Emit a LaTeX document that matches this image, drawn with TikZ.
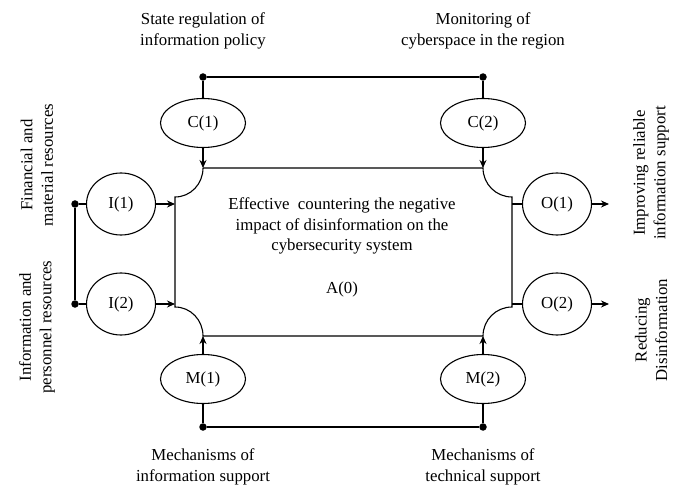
\documentclass[tikz,border=0pt]{standalone}
\usepackage{fontspec}
\setmainfont{Liberation Serif}
\usetikzlibrary{arrows.meta,shapes.geometric}
\begin{document}
\begin{tikzpicture}[x=1pt,y=-1pt,
  every node/.style={font=\fontsize{16.8}{20.5}\selectfont, inner sep=0pt},
  line/.style={line width=1.1pt},
  arr/.style={line width=1.1pt,-{Stealth[length=8pt,width=7pt]}},
  wide/.style={ellipse,draw,line width=1.1pt,minimum width=85pt,minimum height=49pt},
  round/.style={ellipse,draw,line width=1.1pt,minimum width=69pt,minimum height=62pt},
  dot/.style={circle,fill,minimum size=7.5pt},
  lbl/.style={align=center}]
\useasboundingbox (0,0) rectangle (674,486);
% ellipses
\node[wide] (c1) at (203,123) {C(1)};
\node[wide] (c2) at (483,123) {C(2)};
\node[wide] (m1) at (203,379) {M(1)};
\node[wide] (m2) at (483,379) {M(2)};
\node[round] (i1) at (121,204) {I(1)};
\node[round] (i2) at (121,304) {I(2)};
\node[round] (o1) at (557,204) {O(1)};
\node[round] (o2) at (557,304) {O(2)};
% dots
\node[dot] (dc1) at (203,77) {};
\node[dot] (dc2) at (483,77) {};
\node[dot] (dm1) at (203,427) {};
\node[dot] (dm2) at (483,427) {};
\node[dot] (di1) at (75,204) {};
\node[dot] (di2) at (75,304) {};
% box coordinates
\coordinate (tl) at (203,168);
\coordinate (tr) at (483,168);
\coordinate (bl) at (203,336);
\coordinate (br) at (483,336);
\coordinate (lt) at (175,197);
\coordinate (lb) at (175,307);
\coordinate (rt) at (512,197);
\coordinate (rb) at (512,307);
\coordinate (li1) at (175,204);
\coordinate (li2) at (175,304);
\coordinate (ro1) at (512,204);
\coordinate (ro2) at (512,304);
\coordinate (oe1) at (609,204);
\coordinate (oe2) at (609,304);
% box outline
\draw[line] (tl) -- (tr) to[out=-90,in=180] (rt) -- (rb) to[out=180,in=90] (br) -- (bl) to[out=90,in=0] (lb) -- (lt) to[out=0,in=-90] (tl);
% connectors
\draw[line] (dc1) -- (dc2);
\draw[line] (dm1) -- (dm2);
\draw[line] (di1) -- (di2);
\draw[line] (dc1) -- (c1);
\draw[line] (dc2) -- (c2);
\draw[line] (dm1) -- (m1);
\draw[line] (dm2) -- (m2);
\draw[line] (di1) -- (i1);
\draw[line] (di2) -- (i2);
\draw[arr] (c1) -- (tl);
\draw[arr] (c2) -- (tr);
\draw[arr] (m1) -- (bl);
\draw[arr] (m2) -- (br);
\draw[arr] (i1) -- (li1);
\draw[arr] (i2) -- (li2);
\draw[line] (ro1) -- (o1);
\draw[line] (ro2) -- (o2);
\draw[arr] (o1) -- (oe1);
\draw[arr] (o2) -- (oe2);
% texts
\node[lbl] (a0t) at (342,226) {Effective\ \ countering the negative\\impact of disinformation on the\\cybersecurity system};
\node (a0) at (342,289) {A(0)};
\node[lbl] (tc1) at (203,31) {State regulation of\\information policy};
\node[lbl] (tc2) at (483,31) {Monitoring of\\cyberspace in the region};
\node[lbl] (tm1) at (203,467) {Mechanisms of\\information support};
\node[lbl] (tm2) at (483,467) {Mechanisms of\\technical support};
\node[lbl,rotate=90] (ti1) at (37,165) {Financial and\\material resources};
\node[lbl,rotate=90] (ti2) at (37,327) {Information and\\personnel resources};
\node[lbl,rotate=90] (to1) at (651,173) {Improving reliable\\information support};
\node[lbl,rotate=90] (to2) at (651,330) {Reducing\\Disinformation};
\end{tikzpicture}
\end{document}
